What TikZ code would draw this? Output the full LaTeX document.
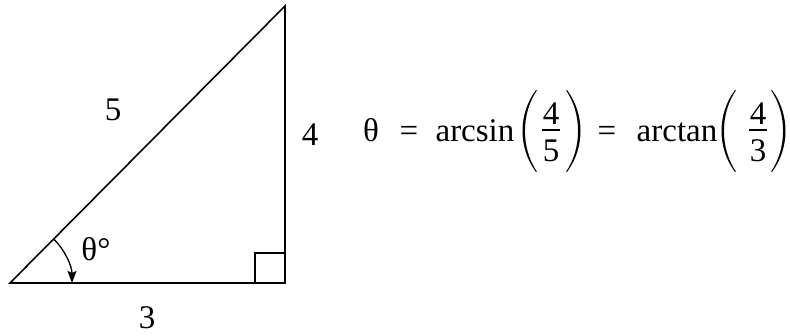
\documentclass[tikz,border=0pt]{standalone}
\usepackage{fontspec}
\setmainfont{Liberation Serif}
\usetikzlibrary{arrows.meta}
\tikzset{
  lbl/.style={inner sep=0pt, font=\fontsize{33}{38}\selectfont},
  eq/.style={inner sep=0pt, anchor=base, font=\fontsize{33}{38}\selectfont},
  edge/.style={line width=1.6pt, line join=miter},
  thin/.style={line width=1.3pt},
}
\newcommand\myLparen[1]{\fill[shift={(#1,0)}] (536,246) .. controls (518,222) and (518,188) .. (536,164) -- (536.8,164.5) .. controls (521,188) and (521,222) .. (536.8,245.5) -- cycle;}
\newcommand\myRparen[1]{\fill[shift={(#1,0)}] (567,246) .. controls (585,222) and (585,188) .. (567,164) -- (566.2,164.5) .. controls (582,188) and (582,222) .. (566.2,245.5) -- cycle;}
\begin{document}
\begin{tikzpicture}[x=1pt,y=1pt]
\useasboundingbox (0,0) rectangle (790,336);
% triangle
\coordinate (A) at (10,53);
\coordinate (B) at (285,53);
\coordinate (C) at (285,330);
\draw[edge] (A) -- (B) -- (C) -- cycle;
% right angle mark
\coordinate (R1) at (255,53);
\coordinate (R2) at (255,83);
\coordinate (R3) at (285,83);
\draw[thin] (R1) -- (R2) -- (R3);
% angle arc
\draw[thin, -{Stealth[length=12pt,width=9pt,inset=2pt]}] (A) ++(45.2:62) arc[start angle=45.2, end angle=0, radius=62];
% side labels
\node[lbl] (five) at (113,226) {5};
\node[lbl] (four) at (310,201) {4};
\node[lbl] (three) at (147,18) {3};
\node[lbl] (ang) at (96,87) {θ°};
% equation
\node[eq] (th) at (371,194) {θ};
\node[eq] (eq1) at (409,194) {=};
\node[eq] (asin) at (475,194) {arcsin};
\node[eq] (n1) at (551,211) {4};
\node[eq] (d1) at (551,174) {5};
\draw[thin] (542,206) -- (560,206);
\myLparen{0}
\myRparen{0}
\node[eq] (eq2) at (607,194) {=};
\node[eq] (atan) at (677,194) {arctan};
\node[eq] (n2) at (758,211) {4};
\node[eq] (d2) at (758,174) {3};
\draw[thin] (749,206) -- (767,206);
\myLparen{199}
\myRparen{205}
\end{tikzpicture}
\end{document}
